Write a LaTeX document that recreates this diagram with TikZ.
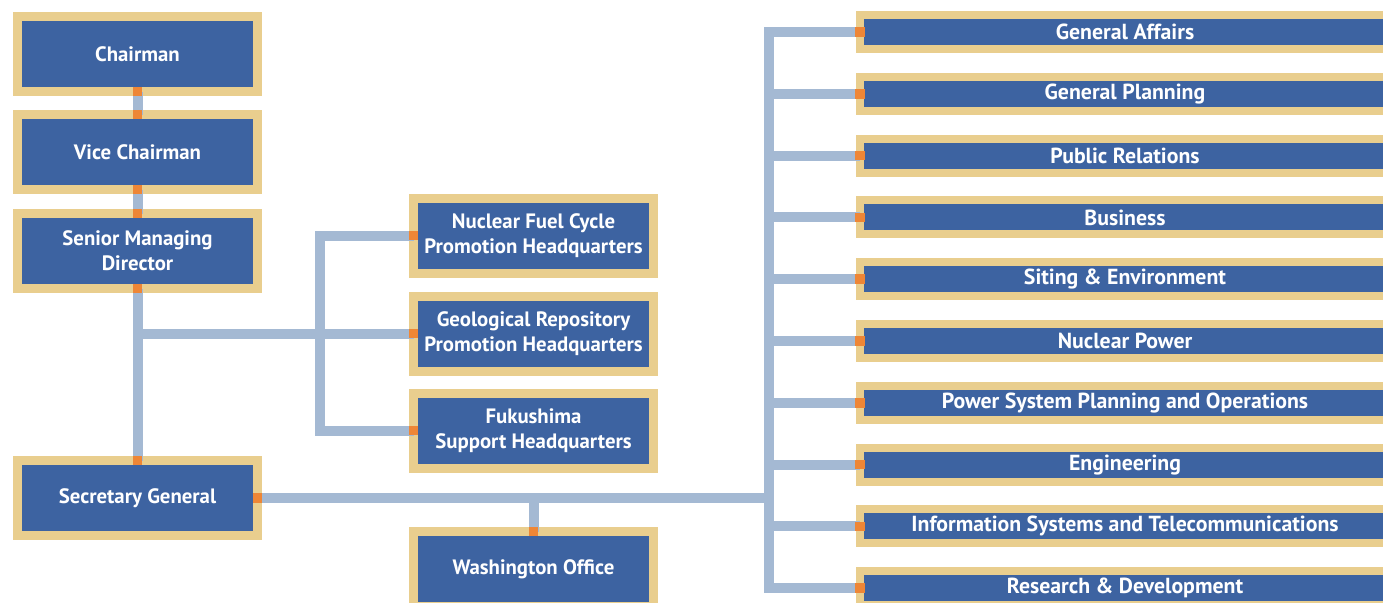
\documentclass[tikz,border=0pt]{standalone}
\usepackage{fontspec}
\setmainfont{PT Sans}
\usetikzlibrary{positioning}
\definecolor{boxBlue}{RGB}{61,99,161}
\definecolor{frameTan}{RGB}{233,206,142}
\definecolor{linkBlue}{RGB}{164,185,211}
\definecolor{jointOrange}{RGB}{238,134,54}

\begin{document}
\begin{tikzpicture}[x=0.5pt, y=-0.5pt,
    unit/.style={draw=frameTan, fill=boxBlue, line width=4.5pt, text=white,
      font=\fontsize{10.4}{12.5}\selectfont\bfseries, align=center,
      minimum width=120pt, minimum height=37.5pt, inner sep=0pt, outer sep=0pt},
    dept/.style={unit, line width=4pt, minimum width=265pt, minimum height=17pt,
      font=\fontsize{10.9}{12.5}\selectfont\bfseries},
    link/.style={draw=linkBlue, line width=5pt}]

    \useasboundingbox (0,0) rectangle (1383,602);
    \clip (0,0) rectangle (1383,602);

    % 1. BOARD (left column)
    \node[unit] (chair)  at (137.5,54)  {Chairman};
    \node[unit] (vice)   at (137.5,152) {Vice Chairman};
    \node[unit] (smd)    at (137.5,251) {Senior Managing\\Director};
    \node[unit] (secgen) at (137.5,498) {Secretary General};

    % 2. HEADQUARTERS + OVERSEAS OFFICE
    \node[unit] (fuel) at (533.5,235.5) {Nuclear Fuel Cycle\\Promotion Headquarters};
    \node[unit] (geo)  at (533.5,333.5) {Geological Repository\\Promotion Headquarters};
    \node[unit] (fuku) at (533.5,430.5) {Fukushima\\Support Headquarters};
    \node[unit] (wash) at (533.5,569)   {Washington Office};

    % 3. DEPARTMENTS (right column, runs off the page edge)
    \foreach \name [count=\i from 0] in {General Affairs, General Planning,
        Public Relations, Business, Siting \& Environment, Nuclear Power,
        Power System Planning and Operations, Engineering,
        Information Systems and Telecommunications, Research \& Development}
      \node[dept] (dept\i) at (1125,32+61.8*\i) {\name};

    % 4. CONNECTORS
    \coordinate (hq) at (320,333.5);
    \coordinate (trunk) at (769,498);
    \draw[link] (chair.south) -- (vice.north);
    \draw[link] (vice.south) -- (smd.north);
    \draw[link] (smd.south) -- (secgen.north);
    \draw[link] (smd.south |- geo.west) -- (geo.west);
    \draw[link] (fuel.west) -| (hq) |- (fuku.west);
    \draw[link] (secgen.east) -- (trunk);
    \draw[link] (wash.north) -- (wash.north |- secgen.east);
    \draw[link] (dept0.west) -| (trunk) |- (dept9.west);
    \foreach \i in {1,...,8} { \draw[link] (trunk |- dept\i.west) -- (dept\i.west); }

    % orange joints where a connector meets a frame
    \foreach \a in {chair.south, vice.north, vice.south, smd.north, smd.south,
        secgen.north, secgen.east, fuel.west, geo.west, fuku.west, wash.north}
      { \fill[jointOrange] (\a) ++(-4.75,-4.75) rectangle ++(9.5,9.5); }
    \foreach \i in {0,...,9}
      { \fill[jointOrange] (dept\i.west) ++(-4.75,-4.75) rectangle ++(9.5,9.5); }

\end{tikzpicture}
\end{document}
